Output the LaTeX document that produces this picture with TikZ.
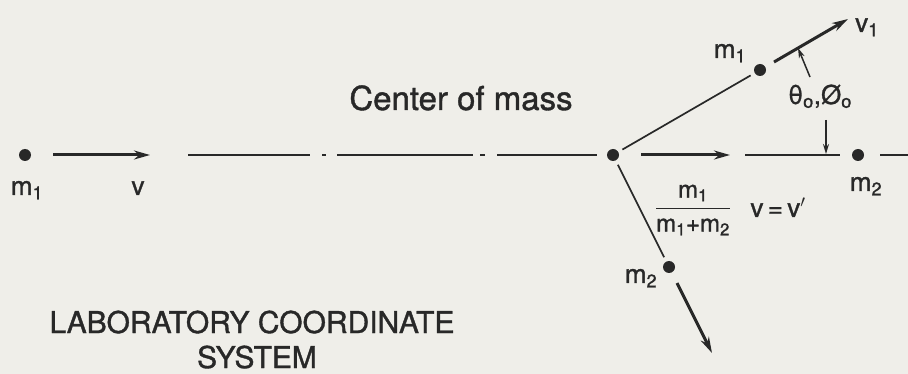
\documentclass[tikz,border=0pt]{standalone}
\usepackage{amsmath}
\usepackage{fontspec}
\setmainfont[FakeBold=1.2]{TeX Gyre Heros}
\usetikzlibrary{arrows.meta}
\definecolor{paper}{RGB}{239,238,233}
\definecolor{ink}{RGB}{40,40,40}

\begin{document}
\begin{tikzpicture}[x=1pt,y=-1pt,ink,line width=1.7pt,
		>={Stealth[length=16pt,width=9pt]},
		dot/.style={circle,fill=ink,inner sep=0pt,minimum size=12pt},
		lbl/.style={inner sep=0pt,anchor=base,font=\fontsize{26}{30}\selectfont},
		big/.style={inner sep=0pt,anchor=base,font=\fontsize{33}{38}\selectfont},
		vec/.style={->,line width=3pt},
		ptr/.style={-{Stealth[length=10pt,width=6pt]},line width=1.5pt}]
	\fill[paper] (0,0) rectangle (908,374);
	\useasboundingbox (0,0) rectangle (908,374);
	% particles
	\node[dot] (m1in) at (25,155) {};
	\node[dot] (cm) at (613,155) {};
	\node[dot] (m2rest) at (858,155) {};
	\node[dot] (m1out) at (760,70) {};
	\node[dot] (m2out) at (669,267) {};
	% free ends
	\coordinate (vs) at (53,155); \coordinate (ve) at (150,155);
	\coordinate (axs) at (188,155); \coordinate (axe) at (597,155);
	\coordinate (cms) at (641,155); \coordinate (cme) at (730,155);
	\coordinate (lns) at (745,155); \coordinate (lne) at (840,155);
	\coordinate (tls) at (880,155); \coordinate (tle) at (908,155);
	\coordinate (v1s) at (774,62); \coordinate (v1e) at (848,19);
	\coordinate (v2s) at (677,283); \coordinate (v2e) at (712,353);
	\coordinate (pa) at (810,77); \coordinate (pb) at (798,48);
	\coordinate (pc) at (826,120); \coordinate (pd) at (826,154);
	% lines and arrows
	\draw[vec] (vs) -- (ve);
	\draw[dash pattern=on 122pt off 12pt on 4pt off 11pt on 136pt off 7pt on 5pt off 12pt on 100pt off 40pt] (axs) -- (axe);
	\draw[vec] (cms) -- (cme);
	\draw (lns) -- (lne);
	\draw (tls) -- (tle);
	\draw[shorten <=4pt,shorten >=4pt] (cm) -- (m1out);
	\draw[shorten <=4pt,shorten >=4pt] (cm) -- (m2out);
	\draw[vec] (v1s) -- (v1e);
	\draw[vec] (v2s) -- (v2e);
	\draw[ptr] (pa) -- (pb);
	\draw[ptr] (pc) -- (pd);
	% labels
	\node[lbl] (m1inlab) at (27,195) {m\textsubscript{1}};
	\node[lbl] (vlab) at (138,195) {v};
	\node[lbl] (m1outlab) at (730,58) {m\textsubscript{1}};
	\node[lbl] (v1lab) at (867,32) {v\textsubscript{1}};
	\node[lbl] (anglab) at (820,104) {θ\textsubscript{o},Ø\textsubscript{o}};
	\node[lbl] (m2restlab) at (866,191) {m\textsubscript{2}};
	\node[lbl] (m2outlab) at (641,283) {m\textsubscript{2}};
	\node[inner sep=0pt,font=\fontsize{24}{28}\selectfont] (frac) at (693,210)
		{$\dfrac{\mbox{m\textsubscript{1}}}{\mbox{m\textsubscript{1}+m\textsubscript{2}}}$};
	\node[lbl] (vcm) at (778,217) {v\,=\,v\/$'$};
	\node[big] (cmlab) at (461,110) {Center of mass};
	\node[big,font=\fontsize{30}{36}\selectfont] (labline) at (252,333) {LABORATORY COORDINATE};
	\node[big,font=\fontsize{30}{36}\selectfont] (sysline) at (257,368) {SYSTEM};
\end{tikzpicture}
\end{document}
